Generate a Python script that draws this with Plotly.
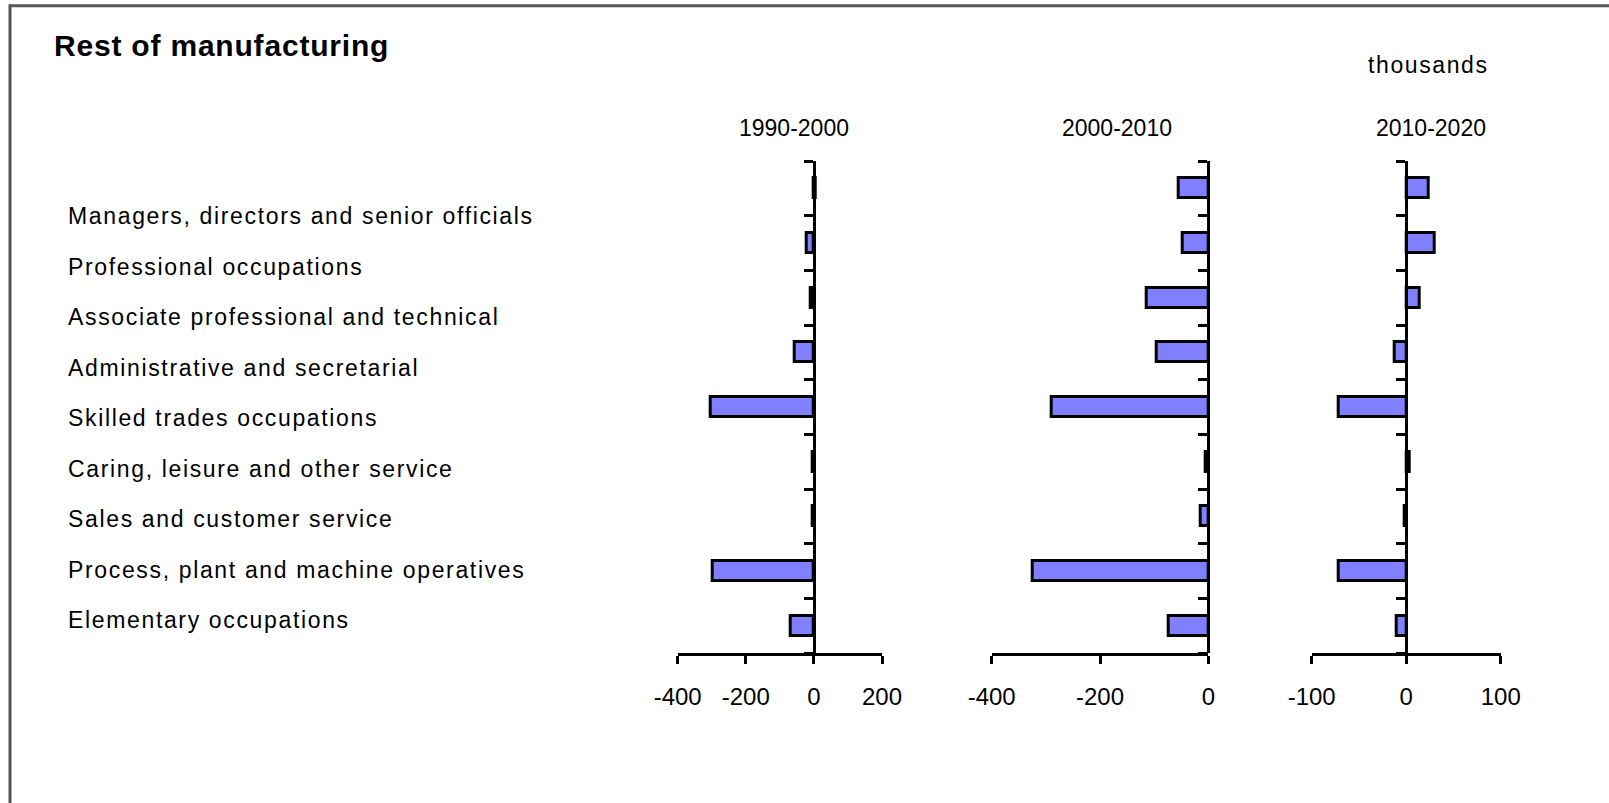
import plotly.graph_objects as go

# ---------------- data ----------------
title_text = "Rest of manufacturing"
unit_label = "thousands"
categories = [
    "Managers, directors and senior officials",
    "Professional occupations",
    "Associate professional and technical",
    "Administrative and secretarial",
    "Skilled trades occupations",
    "Caring, leisure and other service",
    "Sales and customer service",
    "Process, plant and machine operatives",
    "Elementary occupations",
]
periods = ["1990-2000", "2000-2010", "2010-2020"]
change_1990_2000 = [5, -20, -8, -57, -303, -5, -5, -298, -67]
change_2000_2010 = [-54, -48, -113, -95, -290, -4, -14, -324, -73]
change_2010_2020 = [24, 30, 14, -12, -71, 4, -2, -71, -10]
x_ranges = [[-400, 200], [-400, 0], [-100, 100]]
x_tickvals = [[-400, -200, 0, 200], [-400, -200, 0], [-100, 0, 100]]

series = [change_1990_2000, change_2000_2010, change_2010_2020]

# ---------------- layout geometry ----------------
W, H = 1609, 803
FONT = "Liberation Sans, Arial, sans-serif"
panel_px = [(677.7, 882.0), (991.7, 1208.3), (1311.7, 1500.7)]
title_px_x = [793.6, 1116.5, 1431.0]
plot_top, plot_bottom = 161, 653
label_top_px, label_step_px = 216.5, 50.45
ydom = [1 - plot_bottom / H, 1 - plot_top / H]
n = len(categories)
y_range = [n - 0.5, -0.5]

fig = go.Figure()
layout = dict(
    width=W, height=H,
    margin=dict(l=0, r=0, t=0, b=0, autoexpand=False),
    paper_bgcolor="white", plot_bgcolor="rgba(0,0,0,0)",
    showlegend=False,
    font=dict(family=FONT, color="black"),
    bargap=0,
)

annotations = []
for k, vals in enumerate(series):
    sfx = "" if k == 0 else str(k + 1)
    a, b = panel_px[k]
    xdom = [a / W, b / W]
    r0, r1 = x_ranges[k]
    ypos = xdom[0] + (0 - r0) / (r1 - r0) * (xdom[1] - xdom[0])
    fig.add_trace(go.Bar(
        y=list(range(n)), x=vals, orientation="h",
        width=0.37,
        marker=dict(color="#8080FF", line=dict(color="black", width=3)),
        xaxis="x" + sfx, yaxis="y" + sfx,
        hoverinfo="x",
    ))
    layout["xaxis" + sfx] = dict(
        domain=xdom, range=x_ranges[k], anchor="y" + sfx,
        tickvals=x_tickvals[k], ticktext=[str(v) for v in x_tickvals[k]],
        ticks="outside", ticklen=8, tickwidth=3,
        tickcolor="black", showline=True, linecolor="black", linewidth=3,
        showgrid=False, zeroline=False, automargin=False,
        tickfont=dict(family=FONT, size=24, color="black"),
        ticklabelstandoff=12,
    )
    layout["yaxis" + sfx] = dict(
        domain=ydom, range=y_range, anchor="free", position=ypos,
        tickvals=[i - 0.5 for i in range(n + 1)], ticks="outside",
        ticklen=9, tickwidth=3, tickcolor="black",
        showticklabels=False, showline=True, linecolor="black", linewidth=3,
        showgrid=False, zeroline=False, automargin=False,
    )
    annotations.append(dict(
        text=periods[k], xref="paper", yref="paper",
        x=title_px_x[k] / W, y=1 - 128 / H, xanchor="center", yanchor="middle",
        showarrow=False, font=dict(family=FONT, size=23, color="black"),
    ))

# category labels (a separate text column, as in the original chart)
for i, c in enumerate(categories):
    ypx = label_top_px + i * label_step_px
    annotations.append(dict(
        text='<span style="letter-spacing:1.65px">' + c + "</span>",
        xref="paper", yref="paper", x=66 / W, y=1 - ypx / H,
        xanchor="left", yanchor="middle", showarrow=False,
        font=dict(family=FONT, size=23, color="black"),
    ))

annotations.append(dict(
    text='<span style="letter-spacing:1.6px">' + unit_label + "</span>",
    xref="paper", yref="paper", x=1428.7 / W, y=1 - 64.6 / H,
    xanchor="center", yanchor="middle", showarrow=False,
    font=dict(family=FONT, size=23, color="black"),
))
annotations.append(dict(
    text='<span style="letter-spacing:0.8px"><b>' + title_text + "</b></span>",
    xref="paper", yref="paper", x=52 / W, y=1 - 45.5 / H,
    xanchor="left", yanchor="middle", showarrow=False,
    font=dict(family=FONT, size=30, color="black"),
))
layout["annotations"] = annotations

# outer frame (top and left edges visible)
layout["shapes"] = [
    dict(type="line", xref="paper", yref="paper",
         x0=9 / W, x1=1, y0=1 - 5.7 / H, y1=1 - 5.7 / H,
         line=dict(color="#555555", width=3)),
    dict(type="line", xref="paper", yref="paper",
         x0=10.0 / W, x1=10.0 / W, y0=0, y1=1 - 4.5 / H,
         line=dict(color="#555555", width=3)),
]

fig.update_layout(**layout)
fig.write_html(
    "out.html",
    config={"displayModeBar": False},
    post_script="document.body.style.margin='0';document.body.style.overflow='hidden';",
)
